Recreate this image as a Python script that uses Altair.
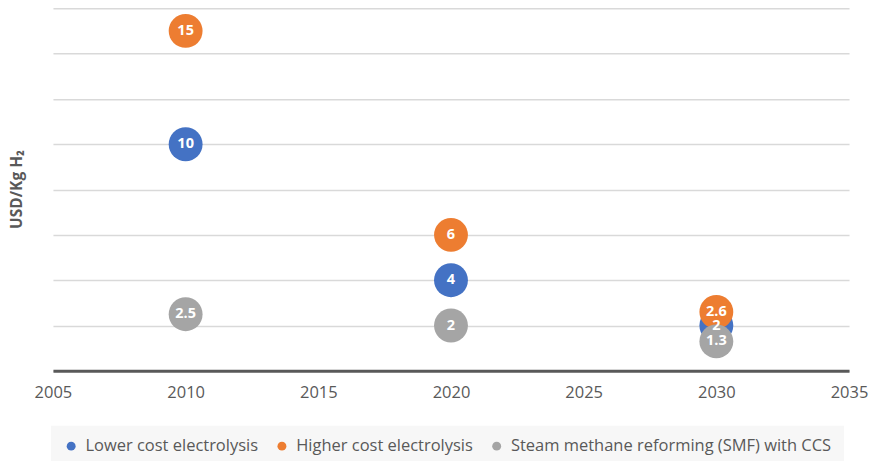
import altair as alt
import pandas as pd

years = [2010, 2020, 2030]
series_names = ["Lower cost electrolysis", "Higher cost electrolysis",
                "Steam methane reforming (SMF) with CCS"]
lower = [10, 4, 2]
higher = [15, 6, 2.6]
smr = [2.5, 2, 1.3]
colors = ["#4472C4", "#ED7D31", "#A5A5A5"]
x_ticks = [2005, 2010, 2015, 2020, 2025, 2030, 2035]
y_grid = [0, 2, 4, 6, 8, 10, 12, 14, 16]

rows = []
for name, vals in zip(series_names, [lower, higher, smr]):
    for yr, v in zip(years, vals):
        rows.append({"year": yr, "value": v, "series": name})
df = pd.DataFrame(rows)

FONT = "Open Sans"
GREY = "#595959"

x = alt.X("year:Q",
          scale=alt.Scale(domain=[2005, 2035], nice=False, zero=False),
          axis=alt.Axis(values=x_ticks, format="d", title=None, grid=False,
                        ticks=False, domainColor=GREY, domainWidth=3,
                        labelColor=GREY, labelFontSize=16.5, labelFont=FONT,
                        labelFlush=False, labelPadding=14))
y = alt.Y("value:Q",
          scale=alt.Scale(domain=[0, 16], nice=False),
          axis=alt.Axis(values=y_grid, labels=False, ticks=False, domain=False,
                        gridColor="#d9d9d9", gridWidth=1.5,
                        title="USD/Kg H₂", titleColor=GREY, titleFontSize=15.5,
                        titleFont=FONT, titleFontWeight="bold",
                        titleX=-36, titleY=181, titleAngle=270,
                        titleBaseline="middle"))

base = alt.Chart(df)

circles = base.mark_circle(size=1150, opacity=1).encode(
    x=x, y=y,
    color=alt.Color("series:N",
                    scale=alt.Scale(domain=series_names, range=colors),
                    sort=series_names,
                    legend=alt.Legend(title=None, orient="none", direction="horizontal",
                                      legendX=-2, legendY=418,
                                      fillColor="#f7f7f7", padding=12,
                                      symbolType="circle", symbolSize=80,
                                      labelFontSize=16.5, labelFont=FONT,
                                      labelColor=GREY, labelOffset=6,
                                      labelLimit=500,
                                      columnPadding=15, symbolStrokeWidth=0)),
)

labels = base.mark_text(color="white", fontWeight="bold", fontSize=14.5,
                        font=FONT, baseline="middle", align="center").encode(
    x="year:Q", y="value:Q",
    text=alt.Text("value:Q", format="~g"),
)

chart = alt.layer(circles, labels).properties(
    width=797, height=363,
    autosize=alt.AutoSizeParams(type="none"),
    padding={"left": 45, "top": 0, "right": 20, "bottom": 90},
).configure_view(stroke=None)

chart.save("out.html", embed_options={"renderer": "svg", "actions": False})
